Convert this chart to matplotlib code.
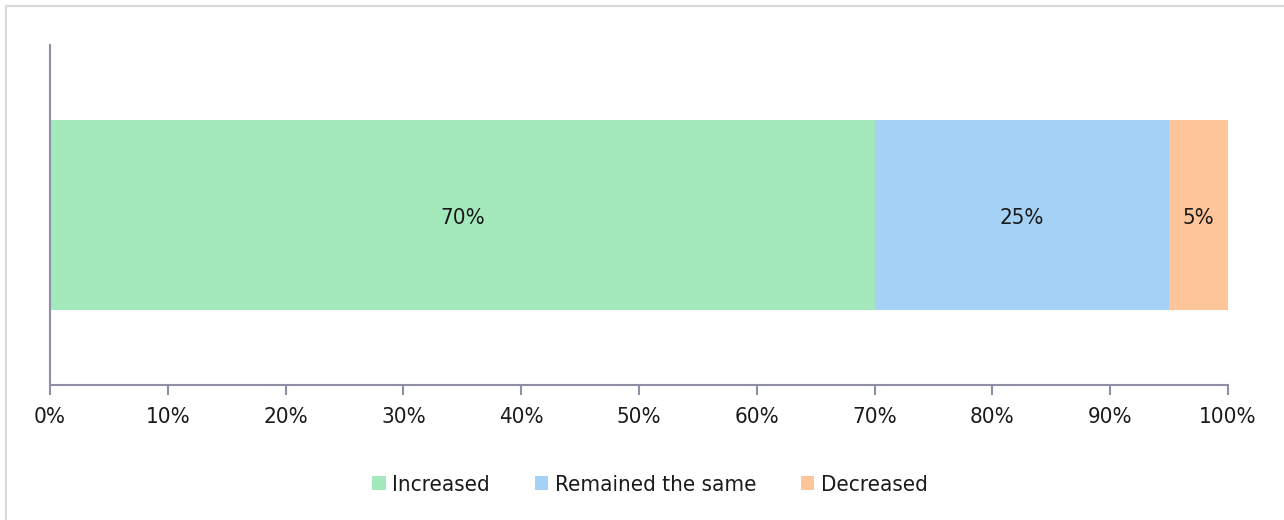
import matplotlib

matplotlib.use("Agg")
import matplotlib.pyplot as plt
from matplotlib.patches import Rectangle

categories = ["Increased", "Remained the same", "Decreased"]
shares = [70, 25, 5]
colors = ["#a4e9bc", "#a4d1f5", "#fec59b"]
tick_values = [0, 10, 20, 30, 40, 50, 60, 70, 80, 90, 100]
tick_labels = [f"{v}%" for v in tick_values]

plt.rcParams["font.family"] = ["DejaVu Sans"]
plt.rcParams["font.stretch"] = "condensed"

fig = plt.figure(figsize=(12.84, 5.2), dpi=100)
fig.patches.append(
    Rectangle((6 / 1284, -0.05), 1.1, 1.05 - 6 / 520, transform=fig.transFigure,
              facecolor="white", edgecolor="#d9d9dd", linewidth=1.5, zorder=-1)
)

ax = fig.add_axes([50 / 1284, 1 - 385 / 520, 1178 / 1284, 340 / 520])
ax.set_facecolor("none")

left = 0
for name, value, color in zip(categories, shares, colors):
    ax.barh(0, value, left=left, height=0.56, color=color, label=name)
    ax.text(left + value / 2, -0.01, f"{value}%", ha="center", va="center",
            fontsize=16, color="#1a1a1a")
    left += value

ax.set_xlim(0, 100)
ax.set_ylim(-0.5, 0.5)
ax.set_xticks(tick_values)
ax.set_xticklabels(tick_labels, fontsize=16, color="#1a1a1a")
ax.set_yticks([])
ax.tick_params(axis="x", length=7, width=1.5, color="#8e8ea6", pad=9)
for side in ("top", "right"):
    ax.spines[side].set_visible(False)
for side in ("left", "bottom"):
    ax.spines[side].set_color("#8e8ea6")
    ax.spines[side].set_linewidth(1.5)

fig.legend(loc="center", bbox_to_anchor=(650 / 1284, 1 - 485 / 520), ncol=3,
           frameon=False, fontsize=16, handlelength=0.6, handleheight=0.6,
           handletextpad=0.3, columnspacing=2.0, labelcolor="#1a1a1a")

fig.savefig("out.png", dpi=100)
